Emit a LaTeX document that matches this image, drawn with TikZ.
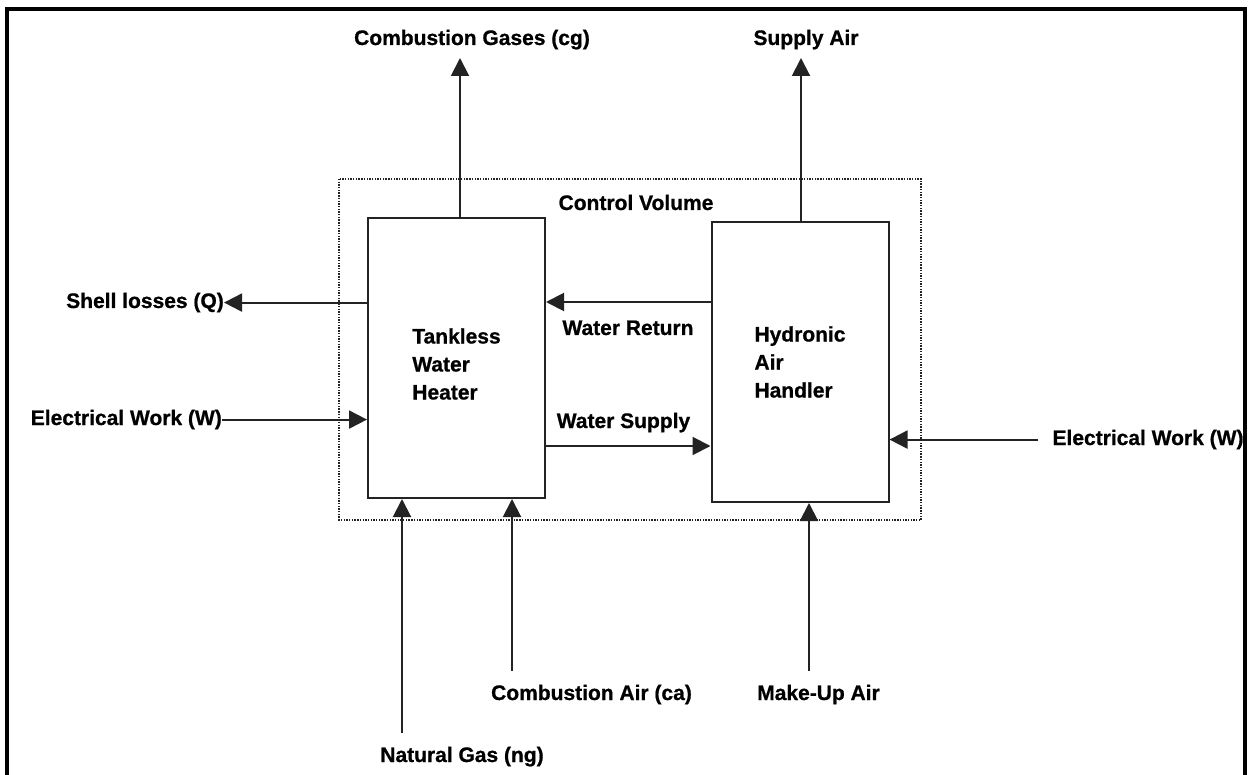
\documentclass[tikz,border=0pt]{standalone}
\usepackage{fontspec}
\setmainfont{Liberation Sans}[BoldFeatures={FakeBold=0.8}]
\usepackage{tikz}
\usetikzlibrary{arrows.meta,positioning}
\definecolor{ink}{RGB}{35,35,35}

\begin{document}
\begin{tikzpicture}[x=1pt,y=-1pt,>={Triangle[length=18pt,width=18pt]},
      font=\bfseries\fontsize{21}{28}\selectfont,
      unit/.style={draw=ink,line width=2pt,minimum width=177pt,
            minimum height=280pt,align=left,inner sep=0pt},
      lbl/.style={inner sep=0pt},
      gap/.style={inner sep=14pt},
      flow/.style={->,draw=ink,line width=2pt}]
      \useasboundingbox (0,0) rectangle (1255,775);
      % outer frame, open at the bottom
      \draw[line width=3.5pt] (7,790) -- (7,9) -- (1245,9) -- (1245,790);
      % control volume
      \draw[ink,line width=1.6pt,dash pattern=on 1.4pt off 1.3pt]
            (339,179) rectangle (921,520);
      \node[lbl,anchor=base] (cv) at (636,210) {Control Volume};
      \node[unit] (twh) at (456.5,358) {};
      \node[lbl,align=left] (twhtxt) at (456.5,364) {Tankless\\Water\\Heater};
      \node[unit] (hah) at (800,362) {Hydronic\\Air\\Handler};
      % streams leaving at the top
      \node[lbl,anchor=base] (cg) at (472,45) {Combustion Gases (cg)};
      \node[lbl,anchor=base] (sa) at (806,45) {Supply Air};
      \coordinate (cgtip) at (460,58);
      \coordinate (satip) at (801,58);
      \draw[flow] (cgtip |- twh.north) -- (cgtip);
      \draw[flow] (satip |- hah.north) -- (satip);
      % left side of the heater
      \node[lbl,anchor=base east] (ql) at (224,308) {Shell losses (Q)};
      \node[lbl,anchor=base east] (ewl) at (222,425) {Electrical Work (W)};
      \draw[flow] (twh.west |- ql.east) -- (ql.east);
      \draw[flow] (ewl.east) -- (twh.west |- ewl.east);
      % water loop between the two units
      \coordinate (ret) at (712,302);
      \coordinate (sup) at (545,446);
      \draw[flow] (hah.west |- ret) -- (twh.east |- ret);
      \draw[flow] (twh.east |- sup) -- (hah.west |- sup);
      \node[lbl,anchor=base] (wr) at (628,335) {Water Return};
      \node[lbl,anchor=base] (ws) at (623.5,428) {Water Supply};
      % right side of the air handler
      \node[lbl,gap,anchor=base] (ewr) at (1148,445) {Electrical Work (W)};
      \draw[flow] (ewr.west) -- (hah.east |- ewr.west);
      % streams entering at the bottom
      \node[lbl,gap,anchor=base] (ng) at (462,762) {Natural Gas (ng)};
      \node[lbl,gap,anchor=base] (ca) at (591.5,700) {Combustion Air (ca)};
      \node[lbl,gap,anchor=base] (mu) at (818.5,700) {Make-Up Air};
      \coordinate (ngx) at (402,0);
      \coordinate (cax) at (512,0);
      \coordinate (mux) at (809,0);
      \draw[flow] (ngx |- ng.north) -- (ngx |- twh.south);
      \draw[flow] (cax |- ca.north) -- (cax |- twh.south);
      \draw[flow] (mux |- mu.north) -- (mux |- hah.south);
    \end{tikzpicture}
\end{document}
